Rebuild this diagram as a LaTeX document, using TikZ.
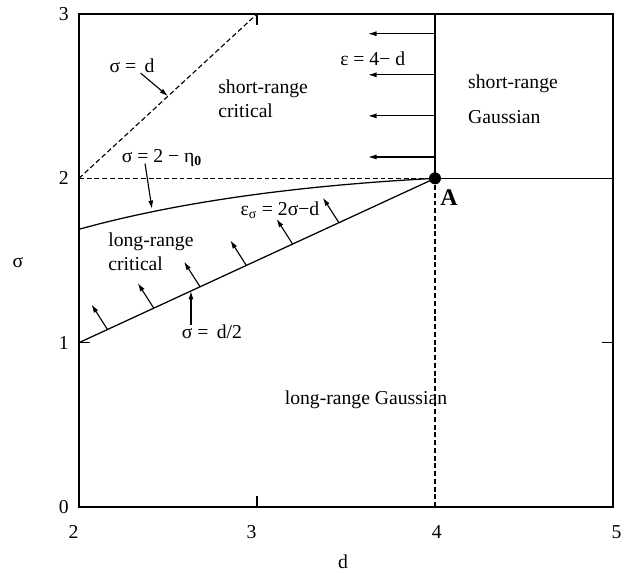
\documentclass[tikz,border=0pt]{standalone}
\usepackage{fontspec}
\setmainfont{Liberation Serif}
\usetikzlibrary{arrows.meta}

\begin{document}
\begin{tikzpicture}[x=4.45cm, y=4.108cm,
    every node/.style={inner sep=0pt, font=\fontsize{14}{17}\selectfont},
    frame/.style={line width=0.9pt},
    border/.style={line width=0.9pt},
    guide/.style={line width=0.8pt, dash pattern=on 3.5pt off 2pt},
    flow/.style={line width=0.8pt, -{Latex[length=6pt,width=3.6pt]}}]
    \useasboundingbox (1.5562,-0.4016) rectangle (5.1011,3.0853);

    % Frame and ticks
    \draw[frame] (2,0) rectangle (5,3);
    \draw[frame] (3,0) -- ++(0,0.067) (3,3) -- ++(0,-0.067)
                 (2,1) -- ++(0.062,0) (5,1) -- ++(-0.062,0);
    \foreach \s in {0,1,2,3}
        \node[anchor=east] (stick\s) at (1.944,\s) {\s};
    \foreach \p/\x in {2/1.97,3/2.97,4/4.01,5/5.02}
        \node (dtick\p) at (\x,-0.152) {\p};
    \node (dlabel) at (3.483,-0.335) {d};
    \node (slabel) at (1.657,1.49) {σ};

    % Phase boundaries
    \coordinate (A) at (4,2);
    \draw[guide] (2,2) -- (3,3);
    \draw[guide] (2,2) -- (A);
    \draw[guide] (4,0) -- (A);
    \draw[border] (A) -- (5,2);
    \draw[border] (A) -- (4,3);
    \draw[border] (2,1) -- (A);
    \draw[border] (2,1.69) .. controls (2.6,1.87) and (3.3,1.96) .. (A);
    \fill (A) circle[radius=0.15cm];
    \node[font=\fontsize{17}{19}\selectfont\bfseries] (Alabel) at (4.079,1.88) {A};

    % Flow arrows
    \foreach \s in {2.13,2.38,2.63,2.88}
        \draw[flow] (4,\s) -- (3.624,\s);
    \foreach \p in {2.16,2.42,2.68,2.94,3.20,3.46}
        \draw[flow] (\p,\p/2) -- ++(-0.09,0.153);

    % Region names
    \node[anchor=west, align=left] (src) at (2.781,2.483) {short-range\\critical};
    \node[anchor=west, align=left] (srg) at (4.185,2.480) {short-range\\[8pt]Gaussian};
    \node[anchor=west, align=left] (lrc) at (2.163,1.555) {long-range\\critical};
    \node (lrg) at (3.612,0.651) {long-range Gaussian};

    % Line labels
    \node (eps) at (3.65,2.726) {ε = 4− d};
    \node (sdiag) at (2.298,2.684) {σ = \,d};
    \coordinate (sdtip) at (2.5,2.5);
    \draw[flow] (sdiag) -- (sdtip);
    \node (etalab) at (2.466,2.124) {σ = 2 − η\textsubscript{\textbf{0}}};
    \coordinate (etatail) at (2.371,2.09);
    \coordinate (etatip) at (2.41,1.813);
    \draw[flow] (etatail) -- (etatip);
    \node (epss) at (3.129,1.807) {ε\textsubscript{σ} = 2σ−d};
    \node (shalf) at (2.747,1.065) {σ = \,d/2};
    \coordinate (shtip) at (2.629,1.3145);
    \draw[flow] (shalf.north -| shtip) -- (shtip);
\end{tikzpicture}
\end{document}
